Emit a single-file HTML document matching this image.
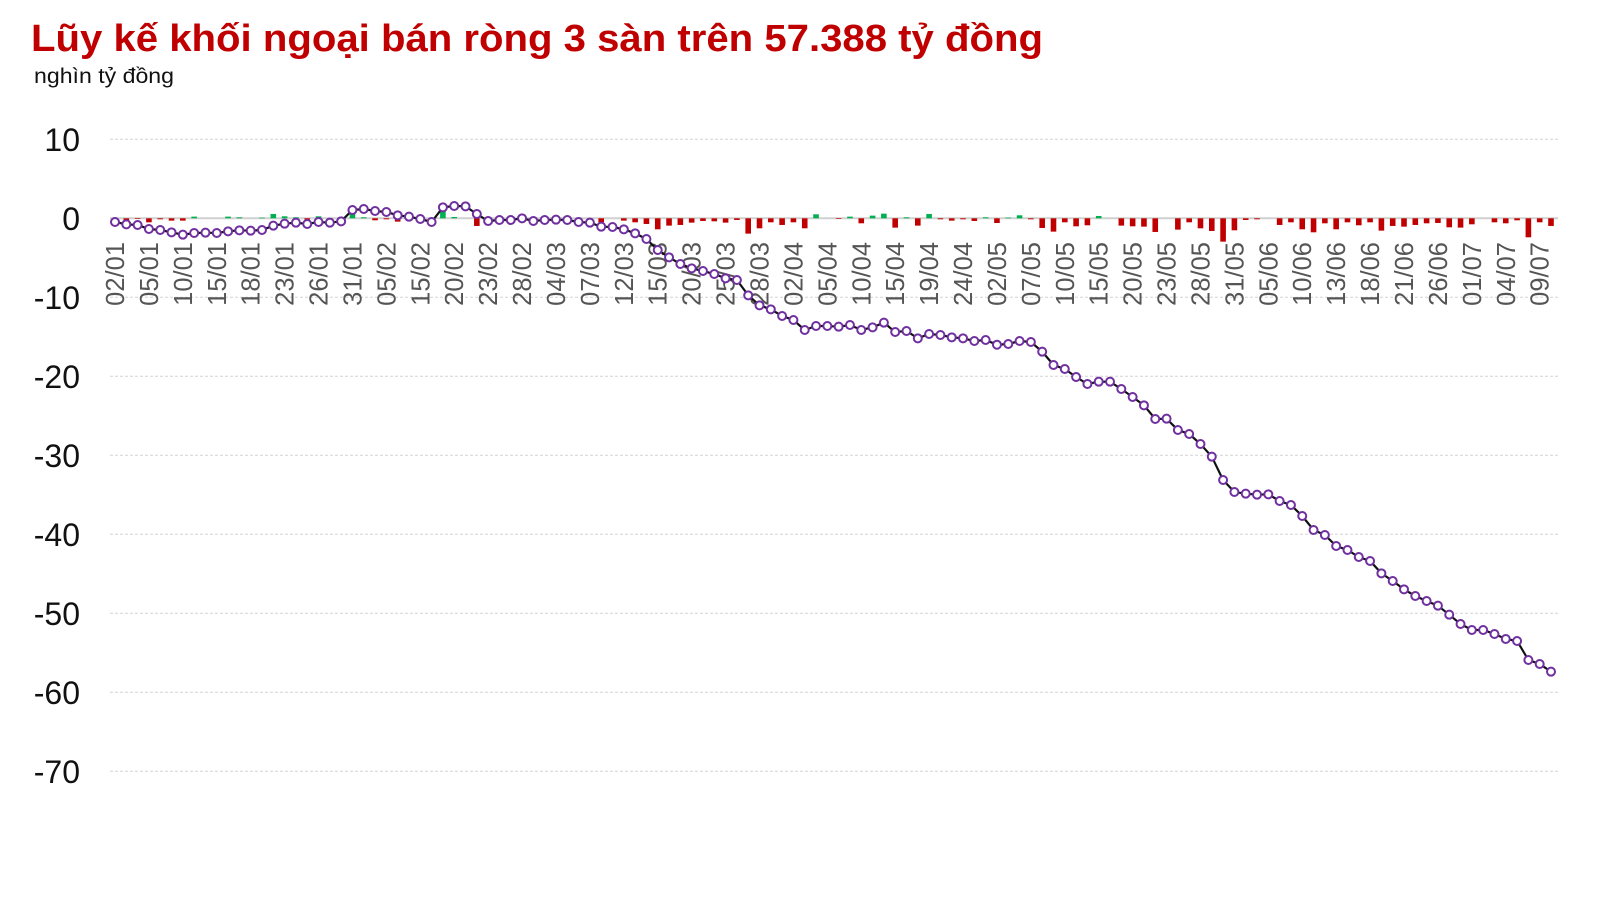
<!DOCTYPE html>
<html><head><meta charset="utf-8"><style>
html,body{margin:0;padding:0;background:#fff;}
svg{display:block;}
</style></head><body>
<svg id="c" width="1603" height="900" xmlns="http://www.w3.org/2000/svg" font-family="Liberation Sans, Arial, sans-serif">
<text x="31" y="51" font-size="38" font-weight="bold" fill="#c00000" textLength="1012" lengthAdjust="spacingAndGlyphs">Lũy kế khối ngoại bán ròng 3 sàn trên 57.388 tỷ đồng</text>
<text x="34" y="83" font-size="21" fill="#111" textLength="140" lengthAdjust="spacingAndGlyphs">nghìn tỷ đồng</text>
<g id="g"></g>
</svg>
<script>
const NS="http://www.w3.org/2000/svg";
const g=document.getElementById('g');
function el(t,a,txt){const e=document.createElementNS(NS,t);for(const k in a)e.setAttribute(k,a[k]);if(txt!==undefined)e.textContent=txt;g.appendChild(e);return e;}
const Y0=218.3,K=7.9;
const yv=v=>Y0-K*v;
for(let v=10;v>=-70;v-=10){
  const y=yv(v);
  el('line',{x1:110,x2:1558,y1:y,y2:y,stroke:v==0?'#d0d0d0':'#d4d4d4','stroke-width':v==0?2:1,'stroke-dasharray':v==0?'':'3,2'});
  el('text',{x:80,y:y+11.5,'font-size':32,'text-anchor':'end',fill:'#111'},String(v));
}
const z1=[96,103,105,117,120,127,134,129,128,129,124,121,122,120,107,101,98,102,96,98,94,60,57,63,66,76,80,87,96,52,48,49,72,93,90,90,85,93,90,89,90,96,98,110,111];
const z2=[118,130,147,180,202,222,235,243,252,265,270,316,346,358,378,390,420,408,408,410,405,420,412,398,426,423,445,432,435,442,445,453,450];
const z5=[132,123,126,155,195,207,231,252,245,245,267,291,316,357,356,390,402,432,470,540,576,581,584,583,603,615,648,690,705,738,750,771,783,820,843,868,888,903,917,944,972,990,990,1002,1017,1023,1080,1092];
let vals=[];
z1.forEach(p=>vals.push((Y0-(190+p/3))/K));
z2.forEach(p=>vals.push((Y0-(190+p/3))/K));
vals.push(-16.0);
z5.forEach(p=>vals.push((Y0-(300+p/3))/K));
vals.push(-57.388);
const N=vals.length, X0=115, DX=(1551-115)/(N-1);
const xi=i=>X0+DX*i;
for(let i=0;i<N;i++){
  const d=i==0?vals[0]:vals[i]-vals[i-1];
  if(Math.abs(d)<0.05)continue;
  const y1=yv(0),y2=yv(d);
  el('rect',{x:xi(i)-2.8,y:Math.min(y1,y2),width:5.6,height:Math.abs(y2-y1),fill:d>0?'#00b050':'#c00000'});
}
const labs="02/01,05/01,10/01,15/01,18/01,23/01,26/01,31/01,05/02,15/02,20/02,23/02,28/02,04/03,07/03,12/03,15/03,20/03,25/03,28/03,02/04,05/04,10/04,15/04,19/04,24/04,02/05,07/05,10/05,15/05,20/05,23/05,28/05,31/05,05/06,10/06,13/06,18/06,21/06,26/06,01/07,04/07,09/07".split(',');
labs.forEach((l,k)=>{
  const x=xi(k*3)+9,y=242;
  el('text',{x:x,y:y,'font-size':25.5,fill:'#555','text-anchor':'end',transform:`rotate(-90 ${x} ${y})`},l);
});
el('polyline',{points:vals.map((v,i)=>xi(i).toFixed(1)+','+yv(v).toFixed(1)).join(' '),fill:'none',stroke:'#111','stroke-width':2.2});
vals.forEach((v,i)=>el('circle',{cx:xi(i),cy:yv(v),r:4,fill:'#fff',stroke:'#7030a0','stroke-width':2}));
</script>
</body></html>
